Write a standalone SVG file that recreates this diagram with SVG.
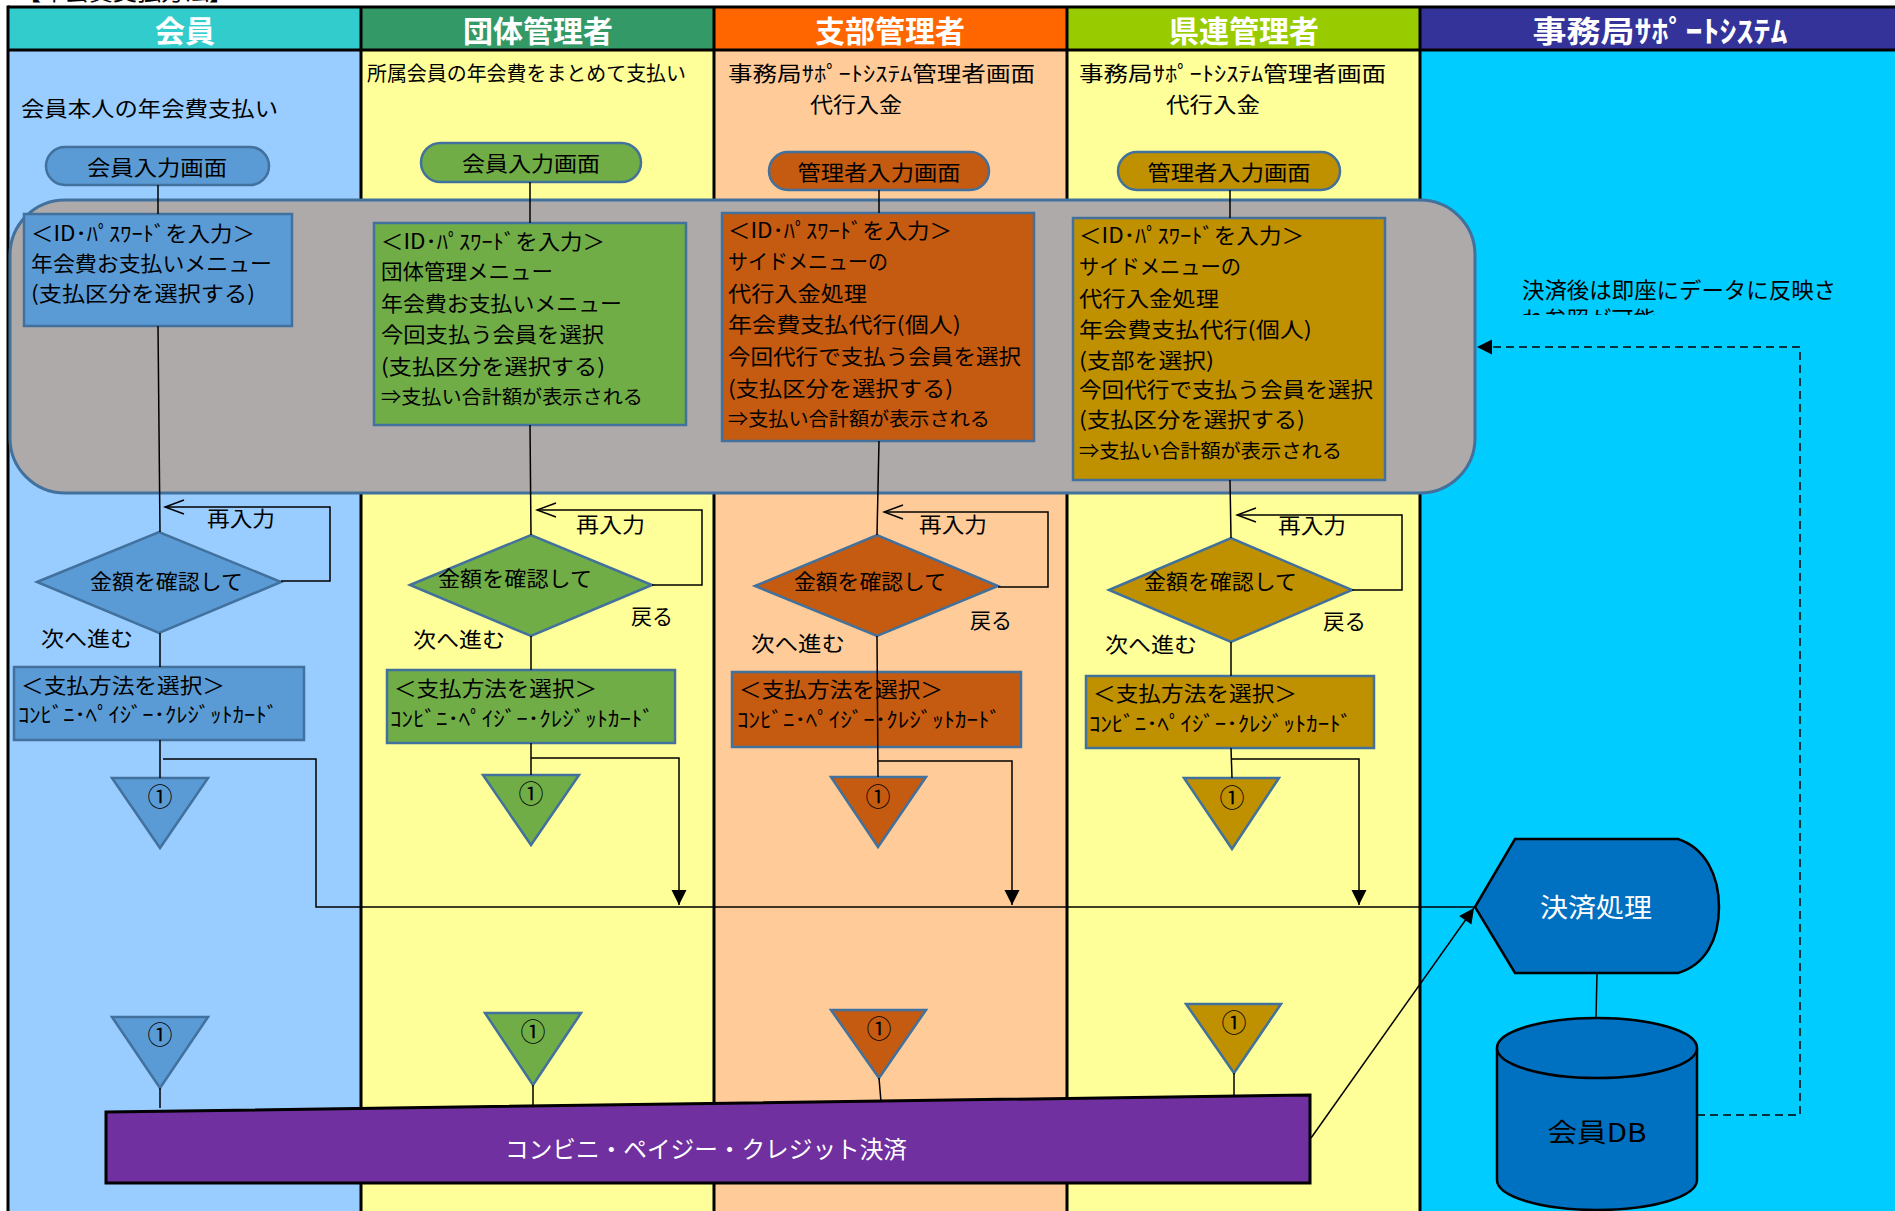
<svg xmlns="http://www.w3.org/2000/svg" width="1895" height="1211" viewBox="0 0 1895 1211">
<style>
text{font-family:"Noto Sans CJK JP","Noto Sans",sans-serif;font-size:21px;fill:#000;dominant-baseline:central}
.w{fill:#fff}
.h{font-size:30px;font-weight:bold;fill:#fff;text-anchor:middle}
.c{text-anchor:middle}
.ln{fill:none;stroke:#000;stroke-width:1.5}
.nd{stroke:#41719C;stroke-width:2.5}
.bl{fill:#5B9BD5}.gr{fill:#70AD47}.or{fill:#C55A11}.go{fill:#BF9000}
.bd{stroke:#000;stroke-width:3}
</style>
<defs>
<marker id="open" markerUnits="userSpaceOnUse" viewBox="-21 -9 23 18" markerWidth="23" markerHeight="18" refX="0" refY="0" orient="auto">
<path d="M-19,-7 L0,0 L-19,7" fill="none" stroke="#000" stroke-width="1.5"/>
</marker>
<marker id="fill" markerUnits="userSpaceOnUse" viewBox="-16 -8 17 16" markerWidth="17" markerHeight="16" refX="0" refY="0" orient="auto">
<path d="M-15,-7.5 L0,0 L-15,7.5 Z" fill="#000"/>
</marker>
<clipPath id="clipNote"><rect x="1500" y="260" width="380" height="55"/></clipPath>
<clipPath id="clipTitle"><rect x="0" y="0" width="400" height="4"/></clipPath>
</defs>

<g id="title" clip-path="url(#clipTitle)">
<text x="17" y="-11" style="font-size:24px">【年会費支払方法】</text>
</g>

<g id="lanes">
<rect x="8" y="7" width="353" height="43" fill="#33CCCC"/>
<rect x="361" y="7" width="353" height="43" fill="#339966"/>
<rect x="714" y="7" width="353" height="43" fill="#FF6600"/>
<rect x="1067" y="7" width="353" height="43" fill="#99CC00"/>
<rect x="1420" y="7" width="475" height="43" fill="#333399"/>
<rect x="8" y="50" width="353" height="1161" fill="#99CCFF"/>
<rect x="361" y="50" width="353" height="1161" fill="#FFFF99"/>
<rect x="714" y="50" width="353" height="1161" fill="#FFCC99"/>
<rect x="1067" y="50" width="353" height="1161" fill="#FFFF99"/>
<rect x="1420" y="50" width="475" height="1161" fill="#00CCFF"/>
<line class="bd" x1="8" y1="7" x2="1895" y2="7"/>
<line class="bd" x1="8" y1="50" x2="1895" y2="50"/>
<line class="bd" x1="8" y1="5.5" x2="8" y2="1211"/>
<line class="bd" x1="361" y1="7" x2="361" y2="1211"/>
<line class="bd" x1="714" y1="7" x2="714" y2="1211"/>
<line class="bd" x1="1067" y1="7" x2="1067" y2="1211"/>
<line class="bd" x1="1420" y1="7" x2="1420" y2="1211"/>
<text class="h" x="185" y="29">会員</text>
<text class="h" x="538" y="29">団体管理者</text>
<text class="h" x="890" y="29">支部管理者</text>
<text class="h" x="1244" y="29">県連管理者</text>
<text class="h" x="1660" y="29" textLength="255" lengthAdjust="spacingAndGlyphs">事務局ｻﾎﾟｰﾄｼｽﾃﾑ</text>
<text x="21" y="107" textLength="257" lengthAdjust="spacingAndGlyphs">会員本人の年会費支払い</text>
<text x="367" y="72" textLength="319" lengthAdjust="spacingAndGlyphs" style="font-size:20px">所属会員の年会費をまとめて支払い</text>
<text x="728" y="72" textLength="307" lengthAdjust="spacingAndGlyphs">事務局ｻﾎﾟｰﾄｼｽﾃﾑ管理者画面</text>
<text x="810" y="103" textLength="92" lengthAdjust="spacingAndGlyphs">代行入金</text>
<text x="1079" y="72" textLength="307" lengthAdjust="spacingAndGlyphs">事務局ｻﾎﾟｰﾄｼｽﾃﾑ管理者画面</text>
<text x="1166" y="103" textLength="94" lengthAdjust="spacingAndGlyphs">代行入金</text>
</g>

<g id="webGroup">
<rect x="10" y="200" width="1465" height="293" rx="55" ry="55" fill="#AEAAAA" stroke="#41719C" stroke-width="3"/>
</g>

<g id="note" clip-path="url(#clipNote)">
<text x="1522" y="288" textLength="314" lengthAdjust="spacingAndGlyphs" style="font-size:22px">決済後は即座にデータに反映さ</text>
<text x="1522" y="317" textLength="134" lengthAdjust="spacingAndGlyphs" style="font-size:22px">れ参照が可能</text>
</g>

<!-- 会員 lane -->
<g id="e1"><rect class="nd bl" x="46" y="147" width="223" height="38" rx="19"/><text class="c" x="157" y="166" textLength="140" lengthAdjust="spacingAndGlyphs">会員入力画面</text></g>
<g id="b1"><rect class="nd bl" x="24" y="214" width="268" height="112" stroke-width="3"/>
<text x="31" y="232" textLength="224" lengthAdjust="spacingAndGlyphs">＜ID･ﾊﾟｽﾜｰﾄﾞを入力＞</text>
<text x="31" y="262" textLength="241" lengthAdjust="spacingAndGlyphs">年会費お支払いメニュー</text>
<text x="31" y="292" textLength="224" lengthAdjust="spacingAndGlyphs">(支払区分を選択する)</text></g>
<g id="d1"><polygon class="nd bl" points="37,582 159,532 281,582 159,633"/><text x="90" y="580" textLength="153" lengthAdjust="spacingAndGlyphs">金額を確認して</text></g>
<g id="p1"><rect class="nd bl" x="14" y="667" width="290" height="73"/>
<text x="21" y="684" textLength="204" lengthAdjust="spacingAndGlyphs">＜支払方法を選択＞</text>
<text x="18" y="713" textLength="260" lengthAdjust="spacingAndGlyphs">ｺﾝﾋﾞﾆ･ﾍﾟｲｼﾞｰ･ｸﾚｼﾞｯﾄｶｰﾄﾞ</text></g>
<g id="t1a"><polygon class="nd bl" points="112,778 208,778 160,848"/><text class="c" x="160" y="795" style="font-size:25px">①</text></g>
<g id="t1b"><polygon class="nd bl" points="112,1017 208,1017 160,1088"/><text class="c" x="160" y="1033" style="font-size:25px">①</text></g>

<!-- 団体管理者 lane -->
<g id="e2"><rect class="nd gr" x="421" y="143" width="220" height="39" rx="19.5"/><text class="c" x="531" y="162" textLength="138" lengthAdjust="spacingAndGlyphs">会員入力画面</text></g>
<g id="b2"><rect class="nd gr" x="374" y="223" width="312" height="202" stroke-width="3"/>
<text x="381" y="240" textLength="224" lengthAdjust="spacingAndGlyphs">＜ID･ﾊﾟｽﾜｰﾄﾞを入力＞</text>
<text x="381" y="270" textLength="172" lengthAdjust="spacingAndGlyphs">団体管理メニュー</text>
<text x="381" y="302" textLength="241" lengthAdjust="spacingAndGlyphs">年会費お支払いメニュー</text>
<text x="381" y="333" textLength="223" lengthAdjust="spacingAndGlyphs">今回支払う会員を選択</text>
<text x="381" y="365" textLength="224" lengthAdjust="spacingAndGlyphs">(支払区分を選択する)</text>
<text x="381" y="395" textLength="262" lengthAdjust="spacingAndGlyphs" style="font-size:19px">⇒支払い合計額が表示される</text></g>
<g id="d2"><polygon class="nd gr" points="410,585 531,535 652,585 531,636"/><text x="438" y="577" textLength="154" lengthAdjust="spacingAndGlyphs">金額を確認して</text></g>
<g id="p2"><rect class="nd gr" x="387" y="670" width="288" height="73"/>
<text x="394" y="687" textLength="203" lengthAdjust="spacingAndGlyphs">＜支払方法を選択＞</text>
<text x="390" y="717" textLength="264" lengthAdjust="spacingAndGlyphs">ｺﾝﾋﾞﾆ･ﾍﾟｲｼﾞｰ･ｸﾚｼﾞｯﾄｶｰﾄﾞ</text></g>
<g id="t2a"><polygon class="nd gr" points="483,775 579,775 531,845"/><text class="c" x="531" y="792" style="font-size:25px">①</text></g>
<g id="t2b"><polygon class="nd gr" points="485,1013 581,1013 533,1085"/><text class="c" x="533" y="1030" style="font-size:25px">①</text></g>

<!-- 支部管理者 lane -->
<g id="e3"><rect class="nd or" x="769" y="152" width="220" height="38" rx="19"/><text class="c" x="879" y="171" textLength="163" lengthAdjust="spacingAndGlyphs">管理者入力画面</text></g>
<g id="b3"><rect class="nd or" x="722" y="213" width="312" height="228" stroke-width="3"/>
<text x="728" y="229" textLength="224" lengthAdjust="spacingAndGlyphs">＜ID･ﾊﾟｽﾜｰﾄﾞを入力＞</text>
<text x="728" y="260" textLength="160" lengthAdjust="spacingAndGlyphs">サイドメニューの</text>
<text x="728" y="292" textLength="139" lengthAdjust="spacingAndGlyphs">代行入金処理</text>
<text x="728" y="323" textLength="233" lengthAdjust="spacingAndGlyphs">年会費支払代行(個人)</text>
<text x="728" y="355" textLength="293" lengthAdjust="spacingAndGlyphs">今回代行で支払う会員を選択</text>
<text x="728" y="387" textLength="225" lengthAdjust="spacingAndGlyphs">(支払区分を選択する)</text>
<text x="728" y="417" textLength="262" lengthAdjust="spacingAndGlyphs" style="font-size:19px">⇒支払い合計額が表示される</text></g>
<g id="d3"><polygon class="nd or" points="755,586 877,535 998,586 877,636"/><text x="794" y="580" textLength="152" lengthAdjust="spacingAndGlyphs">金額を確認して</text></g>
<g id="p3"><rect class="nd or" x="732" y="672" width="289" height="75"/>
<text x="739" y="688" textLength="204" lengthAdjust="spacingAndGlyphs">＜支払方法を選択＞</text>
<text x="737" y="718" textLength="264" lengthAdjust="spacingAndGlyphs">ｺﾝﾋﾞﾆ･ﾍﾟｲｼﾞｰ･ｸﾚｼﾞｯﾄｶｰﾄﾞ</text></g>
<g id="t3a"><polygon class="nd or" points="831,777 926,777 878,847"/><text class="c" x="878" y="795" style="font-size:25px">①</text></g>
<g id="t3b"><polygon class="nd or" points="831,1010 926,1010 879,1078"/><text class="c" x="879" y="1027" style="font-size:25px">①</text></g>

<!-- 県連管理者 lane -->
<g id="e4"><rect class="nd go" x="1118" y="152" width="222" height="38" rx="19"/><text class="c" x="1229" y="171" textLength="163" lengthAdjust="spacingAndGlyphs">管理者入力画面</text></g>
<g id="b4"><rect class="nd go" x="1073" y="218" width="312" height="262" stroke-width="3"/>
<text x="1079" y="234" textLength="225" lengthAdjust="spacingAndGlyphs">＜ID･ﾊﾟｽﾜｰﾄﾞを入力＞</text>
<text x="1079" y="265" textLength="162" lengthAdjust="spacingAndGlyphs">サイドメニューの</text>
<text x="1079" y="297" textLength="140" lengthAdjust="spacingAndGlyphs">代行入金処理</text>
<text x="1079" y="328" textLength="233" lengthAdjust="spacingAndGlyphs">年会費支払代行(個人)</text>
<text x="1079" y="359" textLength="135" lengthAdjust="spacingAndGlyphs">(支部を選択)</text>
<text x="1079" y="388" textLength="294" lengthAdjust="spacingAndGlyphs">今回代行で支払う会員を選択</text>
<text x="1079" y="418" textLength="226" lengthAdjust="spacingAndGlyphs">(支払区分を選択する)</text>
<text x="1079" y="449" textLength="263" lengthAdjust="spacingAndGlyphs" style="font-size:19px">⇒支払い合計額が表示される</text></g>
<g id="d4"><polygon class="nd go" points="1109,590 1231,538 1352,590 1231,642"/><text x="1144" y="580" textLength="153" lengthAdjust="spacingAndGlyphs">金額を確認して</text></g>
<g id="p4"><rect class="nd go" x="1086" y="676" width="288" height="72"/>
<text x="1093" y="692" textLength="204" lengthAdjust="spacingAndGlyphs">＜支払方法を選択＞</text>
<text x="1089" y="722" textLength="263" lengthAdjust="spacingAndGlyphs">ｺﾝﾋﾞﾆ･ﾍﾟｲｼﾞｰ･ｸﾚｼﾞｯﾄｶｰﾄﾞ</text></g>
<g id="t4a"><polygon class="nd go" points="1184,778 1279,778 1232,849"/><text class="c" x="1232" y="796" style="font-size:25px">①</text></g>
<g id="t4b"><polygon class="nd go" points="1186,1004 1281,1004 1234,1073"/><text class="c" x="1234" y="1021" style="font-size:25px">①</text></g>

<!-- system lane -->
<g id="settle"><path d="M1475,907 L1515,839 L1678,839 C1705,848 1719,875 1719,907 C1719,940 1705,965 1678,973 L1515,973 Z" fill="#0070C0" stroke="#000" stroke-width="2.5"/>
<text class="c w" x="1596" y="905" textLength="112" lengthAdjust="spacingAndGlyphs" style="font-size:26px">決済処理</text></g>
<g id="db"><path d="M1497,1048 V1180 A100,30 0 0 0 1697,1180 V1048" fill="#0070C0" stroke="#000" stroke-width="2.5"/>
<ellipse cx="1597" cy="1048" rx="100" ry="30" fill="#0070C0" stroke="#000" stroke-width="2.5"/>
<text class="c" x="1597" y="1130" textLength="99" lengthAdjust="spacingAndGlyphs" style="font-size:26px">会員DB</text></g>

<g id="bar"><polygon points="106,1112 1310,1095 1310,1183 106,1183" fill="#7030A0" stroke="#000" stroke-width="3"/>
<text class="c w" x="706" y="1147" textLength="402" lengthAdjust="spacingAndGlyphs" style="font-size:24px">コンビニ・ペイジー・クレジット決済</text></g>

<g id="connectors">
<path class="ln" d="M158,185 V214"/>
<path class="ln" d="M158,326 L160,532"/>
<path class="ln" d="M281,581 H330 V507 H165" marker-end="url(#open)"/>
<path class="ln" d="M160,633 V667"/>
<path class="ln" d="M160,740 V778"/>
<path class="ln" d="M163,759 H316 V907 H1475"/>

<path class="ln" d="M530,182 V223"/>
<path class="ln" d="M530,425 L531,535"/>
<path class="ln" d="M652,585 H702 V510 H537" marker-end="url(#open)"/>
<path class="ln" d="M531,636 V670"/>
<path class="ln" d="M531,743 V775"/>
<path class="ln" d="M531,758 H679 V905" marker-end="url(#fill)"/>

<path class="ln" d="M879,190 V213"/>
<path class="ln" d="M879,441 L877,535"/>
<path class="ln" d="M998,587 H1048 V512 H884" marker-end="url(#open)"/>
<path class="ln" d="M877,636 L878,777"/>
<path class="ln" d="M878,761 H1012 V905" marker-end="url(#fill)"/>

<path class="ln" d="M1230,190 V218"/>
<path class="ln" d="M1230,480 L1231,538"/>
<path class="ln" d="M1352,590 H1402 V515 H1237" marker-end="url(#open)"/>
<path class="ln" d="M1231,642 V676"/>
<path class="ln" d="M1231,748 L1232,778"/>
<path class="ln" d="M1232,759 H1359 V905" marker-end="url(#fill)"/>

<path class="ln" d="M160,1088 V1108"/>
<path class="ln" d="M533,1085 V1105"/>
<path class="ln" d="M879,1078 L881,1102"/>
<path class="ln" d="M1234,1073 V1096"/>
<path class="ln" d="M1311,1138 L1474,908" marker-end="url(#fill)"/>
<path class="ln" d="M1597,973 L1596,1018"/>
<path class="ln" d="M1697,1115 H1800 V347 H1477" stroke-dasharray="8,5" marker-end="url(#fill)"/>
</g>

<g id="labels">
<text x="207" y="517" textLength="68" lengthAdjust="spacingAndGlyphs">再入力</text>
<text x="576" y="523" textLength="69" lengthAdjust="spacingAndGlyphs">再入力</text>
<text x="919" y="523" textLength="68" lengthAdjust="spacingAndGlyphs">再入力</text>
<text x="1278" y="524" textLength="68" lengthAdjust="spacingAndGlyphs">再入力</text>
<text x="631" y="615" textLength="42" lengthAdjust="spacingAndGlyphs">戻る</text>
<text x="970" y="619" textLength="42" lengthAdjust="spacingAndGlyphs">戻る</text>
<text x="1323" y="620" textLength="43" lengthAdjust="spacingAndGlyphs">戻る</text>
<text x="41" y="637" textLength="92" lengthAdjust="spacingAndGlyphs">次へ進む</text>
<text x="413" y="638" textLength="92" lengthAdjust="spacingAndGlyphs">次へ進む</text>
<text x="751" y="642" textLength="94" lengthAdjust="spacingAndGlyphs">次へ進む</text>
<text x="1105" y="643" textLength="92" lengthAdjust="spacingAndGlyphs">次へ進む</text>
</g>
</svg>
